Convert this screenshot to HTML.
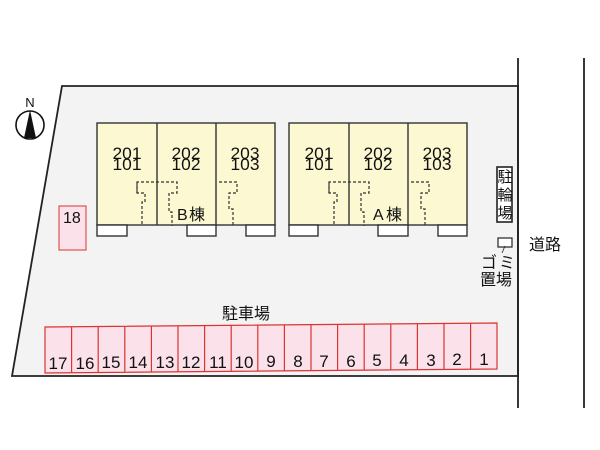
<!DOCTYPE html>
<html><head><meta charset="utf-8"><style>
html,body{margin:0;padding:0;background:#fff;width:600px;height:450px;overflow:hidden}
svg{display:block}
text{font-family:"Liberation Sans","Noto Sans CJK JP",sans-serif;fill:#111}
</style></head><body>
<svg width="600" height="450" viewBox="0 0 600 450" xmlns="http://www.w3.org/2000/svg">
<polygon points="62,86 518,86 518,376 12,376" fill="#f3f3f3" stroke="#222" stroke-width="1.8"/>
<line x1="518" y1="58" x2="518" y2="408" stroke="#222" stroke-width="1.8"/>
<line x1="584" y1="58" x2="584" y2="408" stroke="#222" stroke-width="1.8"/>
<circle cx="30" cy="125" r="14" fill="#fff" stroke="#111" stroke-width="1.6"/>
<polygon points="30,110 24,138 36,138" fill="#111"/>
<text x="30" y="107" font-size="13" text-anchor="middle">N</text>

<g stroke="#333" stroke-width="1.4">
<rect x="97" y="123" width="178" height="102" fill="#fbf8d2"/>
<line x1="157" y1="123" x2="157" y2="225"/><line x1="216" y1="123" x2="216" y2="225"/>
<rect x="97" y="225" width="30" height="11" fill="#fff"/>
<rect x="187" y="225" width="29" height="11" fill="#fff"/>
<rect x="246" y="225" width="29" height="11" fill="#fff"/>
<rect x="289" y="123" width="178" height="102" fill="#fbf8d2"/>
<line x1="349" y1="123" x2="349" y2="225"/><line x1="408" y1="123" x2="408" y2="225"/>
<rect x="289" y="225" width="29" height="11" fill="#fff"/>
<rect x="378" y="225" width="30" height="11" fill="#fff"/>
<rect x="438" y="225" width="29" height="11" fill="#fff"/>
</g>
<g fill="none" stroke="#333" stroke-width="1.2" stroke-dasharray="3,2">
<path d="M137,193 V182 H177 V193 H169 V212 H172 V226"/>
<path d="M137,182 V193 H145 V202 H142 V226"/>
<path d="M219,182 H237 V193 H229 V209 H233 V226"/>
<path d="M329,193 V182 H369 V193 H361 V212 H364 V226"/>
<path d="M329,182 V193 H337 V202 H334 V226"/>
<path d="M411,182 H429 V193 H421 V209 H425 V226"/>
</g>
<g font-size="17" text-anchor="middle">
<text x="127" y="159" textLength="29" lengthAdjust="spacingAndGlyphs">201</text><text x="127" y="170" textLength="29" lengthAdjust="spacingAndGlyphs">101</text>
<text x="186" y="159" textLength="29" lengthAdjust="spacingAndGlyphs">202</text><text x="186" y="170" textLength="29" lengthAdjust="spacingAndGlyphs">102</text>
<text x="245" y="159" textLength="29" lengthAdjust="spacingAndGlyphs">203</text><text x="245" y="170" textLength="29" lengthAdjust="spacingAndGlyphs">103</text>
<text x="319" y="159" textLength="29" lengthAdjust="spacingAndGlyphs">201</text><text x="319" y="170" textLength="29" lengthAdjust="spacingAndGlyphs">101</text>
<text x="378" y="159" textLength="29" lengthAdjust="spacingAndGlyphs">202</text><text x="378" y="170" textLength="29" lengthAdjust="spacingAndGlyphs">102</text>
<text x="437" y="159" textLength="29" lengthAdjust="spacingAndGlyphs">203</text><text x="437" y="170" textLength="29" lengthAdjust="spacingAndGlyphs">103</text>
</g>
<text x="177" y="220" font-size="16">B</text><text x="189" y="220" font-size="16">棟</text>
<text x="373" y="220" font-size="16">A</text><text x="386" y="220" font-size="16">棟</text>

<rect x="497" y="167" width="15" height="55" fill="#fff" stroke="#222" stroke-width="1.6"/>
<g font-size="15" text-anchor="middle"><text x="505" y="182">駐</text><text x="505" y="200">輪</text><text x="505" y="218">場</text></g>
<rect x="498" y="238" width="14" height="9" fill="#fff" stroke="#222" stroke-width="1.2"/>
<line x1="502" y1="253" x2="505" y2="246" stroke="#222" stroke-width="0.8"/>
<text x="481" y="268" font-size="16">ゴ</text><text x="499" y="268" font-size="16">ミ</text>
<text x="480" y="285" font-size="16">置場</text>
<text x="529" y="250" font-size="16">道路</text>

<rect x="59" y="206" width="27" height="44" fill="#fbe1ea" stroke="#d33" stroke-width="1"/>
<text x="63" y="223" font-size="16">18</text>
<text x="222" y="319" font-size="16">駐車場</text>
<polygon points="45,327 497,323 497,369 45,373" fill="#fbe1ea" stroke="#d33" stroke-width="1.2"/>
<g stroke="#d33" stroke-width="1.2">
<line x1="71.6" y1="327" x2="71.6" y2="373"/><line x1="98.2" y1="326.5" x2="98.2" y2="372.5"/><line x1="124.8" y1="326.3" x2="124.8" y2="372.3"/><line x1="151.4" y1="326" x2="151.4" y2="372"/><line x1="178" y1="325.8" x2="178" y2="371.8"/><line x1="204.6" y1="325.6" x2="204.6" y2="371.6"/><line x1="231.2" y1="325.3" x2="231.2" y2="371.3"/><line x1="257.8" y1="325.1" x2="257.8" y2="371.1"/><line x1="284.4" y1="324.9" x2="284.4" y2="370.9"/><line x1="311" y1="324.6" x2="311" y2="370.6"/><line x1="337.6" y1="324.4" x2="337.6" y2="370.4"/><line x1="364.2" y1="324.2" x2="364.2" y2="370.2"/><line x1="390.8" y1="323.9" x2="390.8" y2="369.9"/><line x1="417.4" y1="323.7" x2="417.4" y2="369.7"/><line x1="444" y1="323.5" x2="444" y2="369.5"/><line x1="470.6" y1="323.2" x2="470.6" y2="369.2"/>
</g>
<g font-size="17" text-anchor="middle">
<text x="58" y="369">17</text><text x="85" y="369">16</text><text x="111" y="368">15</text><text x="138" y="368">14</text><text x="165" y="368">13</text><text x="191" y="368">12</text><text x="218" y="368">11</text><text x="244" y="368">10</text><text x="271" y="367">9</text><text x="298" y="367">8</text><text x="324" y="367">7</text><text x="351" y="367">6</text><text x="377" y="366">5</text><text x="404" y="366">4</text><text x="431" y="366">3</text><text x="457" y="365">2</text><text x="484" y="365">1</text>
</g>
</svg>
</body></html>
